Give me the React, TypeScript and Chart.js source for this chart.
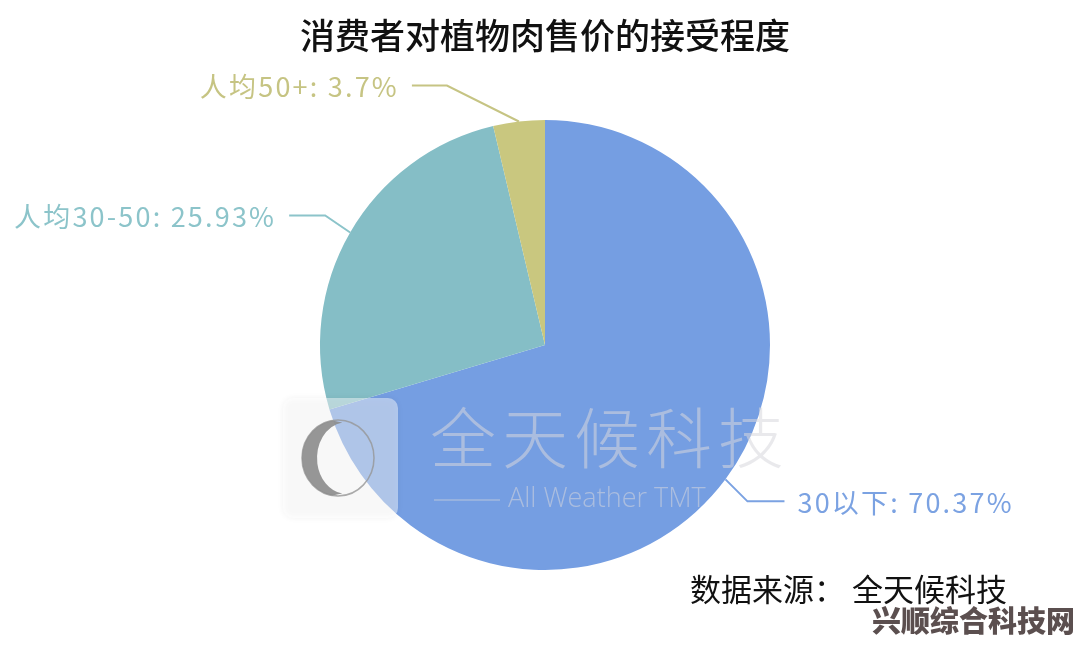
import React, { useEffect, useRef } from "react";
import { Chart, registerables } from "chart.js";

Chart.register(...registerables);

const categories = ["30以下", "人均30-50", "人均50+"];
const shares = [70.37, 25.93, 3.7];
const sliceColors = ["#759EE2", "#85BEC6", "#C9C77F"];
const labelColors = ["#7BA2E2", "#8CC4CA", "#C6C483"];
const titleText = "消费者对植物肉售价的接受程度";
const sourceText = "数据来源： 全天候科技";
const siteMark = "兴顺综合科技网";
const brandCn = "全天候科技";
const brandEn = "All Weather TMT";

// label leader layout: knee offset from slice edge, horizontal run
const kneeOffsets = [
  [22, 22],
  [-25, -17],
  [-72, -36],
];
const runLengths = [37, 36, 35];

const CJK = '"Noto Sans CJK SC", "Noto Sans", sans-serif';

const overlayPlugin = {
  id: "overlay",
  afterDraw(chart: any) {
    const ctx = chart.ctx as CanvasRenderingContext2D;
    const meta = chart.getDatasetMeta(0);
    ctx.save();

    // title
    ctx.fillStyle = "#111";
    ctx.font = `500 35px ${CJK}`;
    ctx.textAlign = "center";
    ctx.textBaseline = "middle";
    ctx.fillText(titleText, 545, 36);

    // brand watermark
    const rx = 283, ry = 398, rw = 115, rh = 120, rr = 10;
    ctx.save();
    ctx.shadowColor = "rgba(0,0,0,0.12)";
    ctx.shadowBlur = 6;
    ctx.fillStyle = "rgba(255,255,255,0.45)";
    ctx.beginPath();
    ctx.roundRect(rx, ry, rw, rh, rr);
    ctx.fill();
    ctx.restore();
    const cx = rx + 55, cy = ry + 60;
    ctx.strokeStyle = "rgba(150,150,150,0.8)";
    ctx.lineWidth = 1.5;
    ctx.beginPath();
    ctx.ellipse(cx, cy, 36, 38, 0, 0, Math.PI * 2);
    ctx.stroke();
    ctx.fillStyle = "rgba(140,140,140,0.9)";
    ctx.beginPath();
    ctx.ellipse(cx, cy, 36, 38, 0, Math.PI * 0.55, Math.PI * 1.45);
    ctx.ellipse(cx + 9, cy, 30, 36, 0, Math.PI * 1.45, Math.PI * 0.55, true);
    ctx.closePath();
    ctx.fill();

    ctx.fillStyle = "rgba(215,215,220,0.55)";
    ctx.font = `300 66px ${CJK}`;
    ctx.textAlign = "left";
    ctx.textBaseline = "middle";
    (ctx as any).letterSpacing = "6px";
    ctx.fillText(brandCn, 430, 438);
    (ctx as any).letterSpacing = "0px";
    ctx.font = `300 27px "Open Sans", ${CJK}`;
    ctx.fillText(brandEn, 508, 499);
    ctx.strokeStyle = "rgba(215,215,220,0.7)";
    ctx.lineWidth = 1.2;
    ctx.beginPath();
    ctx.moveTo(434, 500);
    ctx.lineTo(500, 500);
    ctx.stroke();

    // labels with leader lines
    meta.data.forEach((arc: any, i: number) => {
      const p = arc.getProps(["x", "y", "startAngle", "endAngle", "outerRadius"], true);
      const mid = (p.startAngle + p.endAngle) / 2;
      const sx = p.x + Math.cos(mid) * p.outerRadius;
      const sy = p.y + Math.sin(mid) * p.outerRadius;
      const kx = sx + kneeOffsets[i][0];
      const ky = sy + kneeOffsets[i][1];
      const side = Math.cos(mid) >= 0 ? 1 : -1;
      const ex = kx + side * runLengths[i];
      ctx.strokeStyle = labelColors[i];
      ctx.lineWidth = 2;
      ctx.beginPath();
      ctx.moveTo(sx, sy);
      ctx.lineTo(kx, ky);
      ctx.lineTo(ex, ky);
      ctx.stroke();
      ctx.fillStyle = labelColors[i];
      ctx.font = `400 27px ${CJK}`;
      (ctx as any).letterSpacing = "2.2px";
      ctx.textBaseline = "middle";
      ctx.textAlign = side > 0 ? "left" : "right";
      ctx.fillText(`${categories[i]}: ${shares[i]}%`, ex + side * 13, ky + 1);
      (ctx as any).letterSpacing = "0px";
    });

    // source
    ctx.fillStyle = "#111";
    ctx.font = `400 31px ${CJK}`;
    ctx.textAlign = "left";
    ctx.textBaseline = "middle";
    ctx.fillText(sourceText, 690, 589);

    // site mark
    ctx.font = `900 29px ${CJK}`;
    ctx.lineJoin = "round";
    ctx.strokeStyle = "rgba(255,255,255,0.9)";
    ctx.lineWidth = 3;
    ctx.strokeText(siteMark, 872, 621);
    ctx.fillStyle = "#5B4F4F";
    ctx.fillText(siteMark, 872, 621);

    ctx.restore();
  },
};

export default function App() {
  const ref = useRef<HTMLCanvasElement>(null);
  useEffect(() => {
    document.body.style.margin = "0";
    const chart = new Chart(ref.current!, {
      type: "pie",
      data: {
        labels: categories,
        datasets: [
          {
            data: shares,
            backgroundColor: sliceColors,
            borderWidth: 0,
          },
        ],
      },
      options: {
        animation: false,
        responsive: false,
        devicePixelRatio: 1,
        layout: { padding: { top: 120, bottom: 80, left: 320, right: 310 } },
        plugins: {
          legend: { display: false },
          tooltip: { enabled: false },
          title: { display: false },
        },
      },
      plugins: [overlayPlugin],
    });
    return () => chart.destroy();
  }, []);
  return (
    <div style={{ position: "absolute", left: 0, top: 0, width: 1080, height: 650, background: "#fff" }}>
      <canvas ref={ref} width={1080} height={650} />
    </div>
  );
}
